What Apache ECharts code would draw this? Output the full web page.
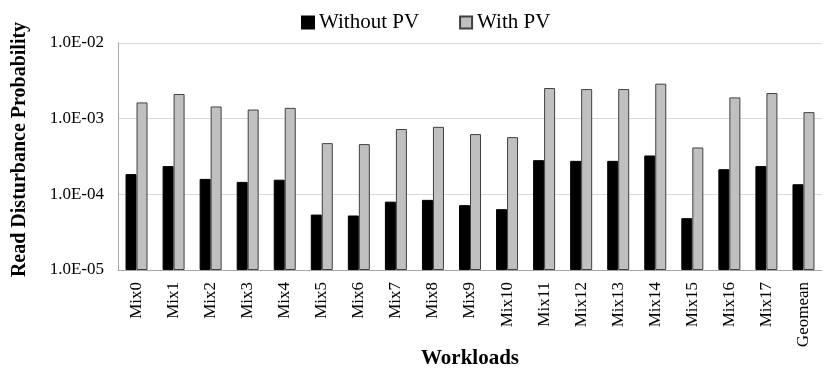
<!DOCTYPE html>
<html>
<head>
<meta charset="utf-8">
<script src="https://cdn.jsdelivr.net/npm/echarts@6/dist/echarts.min.js"></script>
<style>html,body{margin:0;padding:0;background:#fff}#c{width:830px;height:375px}</style>
</head>
<body>
<div id="c"></div>
<script>
var categories = ['Mix0','Mix1','Mix2','Mix3','Mix4','Mix5','Mix6','Mix7','Mix8','Mix9','Mix10','Mix11','Mix12','Mix13','Mix14','Mix15','Mix16','Mix17','Geomean'];
var withoutPV = [1.85e-4,2.36e-4,1.60e-4,1.46e-4,1.56e-4,5.4e-5,5.25e-5,8.0e-5,8.45e-5,7.2e-5,6.37e-5,2.83e-4,2.77e-4,2.77e-4,3.26e-4,4.84e-5,2.15e-4,2.36e-4,1.36e-4];
var withPV = [1.64e-3,2.12e-3,1.45e-3,1.32e-3,1.39e-3,4.75e-4,4.61e-4,7.3e-4,7.8e-4,6.25e-4,5.7e-4,2.54e-3,2.46e-3,2.46e-3,2.9e-3,4.16e-4,1.91e-3,2.18e-3,1.22e-3];
var seriesNames = ['Without PV','With PV'];
var axisMin = 1e-5, axisMax = 1e-2;

// ECharts log-axis bars grow from value 1, so values are expressed relative to the axis minimum
var scaleK = 1 / axisMin;
function rel(arr){ return arr.map(function(v){ return v * scaleK; }); }

function fmt(val){
  var v = val / scaleK;
  var e = Math.round(Math.log10(v));
  var m = v / Math.pow(10, e);
  var s = e < 0 ? '-' : '+';
  var a = Math.abs(e);
  return m.toFixed(1) + 'E' + s + (a < 10 ? '0' + a : a);
}

var font = '"Liberation Serif","Times New Roman",serif';
var chart = echarts.init(document.getElementById('c'));
chart.setOption({
  animation: false,
  textStyle: {fontFamily: font},
  legend: {
    top: 7, left: 296,
    itemWidth: 12, itemHeight: 12, itemGap: 40,
    icon: 'rect',
    textStyle: {fontFamily: font, fontSize: 21, color: '#000'},
    data: seriesNames
  },
  grid: {left: 118, right: 8, top: 43, bottom: 105, containLabel: false, outerBoundsMode: 'none'},
  xAxis: {
    type: 'category',
    data: categories,
    name: 'Workloads',
    nameLocation: 'middle',
    nameGap: 78,
    nameMoveOverlap: false,
    nameTextStyle: {fontFamily: font, fontSize: 21, fontWeight: 'bold', color: '#000'},
    axisLine: {lineStyle: {color: '#a6a6a6', width: 1}},
    axisTick: {show: false},
    axisLabel: {rotate: 90, fontFamily: font, fontSize: 17, color: '#000', margin: 12, interval: 0}
  },
  yAxis: {
    type: 'log',
    logBase: 10,
    min: axisMin * scaleK, max: axisMax * scaleK,
    name: 'Read Disturbance Probability',
    nameLocation: 'middle',
    nameGap: 88,
    nameMoveOverlap: false,
    nameTextStyle: {fontFamily: font, fontSize: 20, fontWeight: 'bold', color: '#000', padding: [0, 0, 0, 14]},
    axisLine: {show: true, lineStyle: {color: '#a6a6a6', width: 1}},
    axisTick: {show: false},
    splitLine: {lineStyle: {color: '#d9d9d9', width: 1}},
    axisLabel: {fontFamily: font, fontSize: 17, color: '#000', margin: 14, formatter: fmt}
  },
  series: [
    {name: seriesNames[0], type: 'bar', data: rel(withoutPV), barWidth: 11, barGap: '0%',
     itemStyle: {color: '#000', borderColor: '#000', borderWidth: 1}},
    {name: seriesNames[1], type: 'bar', data: rel(withPV), barWidth: 11,
     itemStyle: {color: '#c0c0c0', borderColor: '#404040', borderWidth: 1}}
  ]
});
</script>
</body>
</html>
